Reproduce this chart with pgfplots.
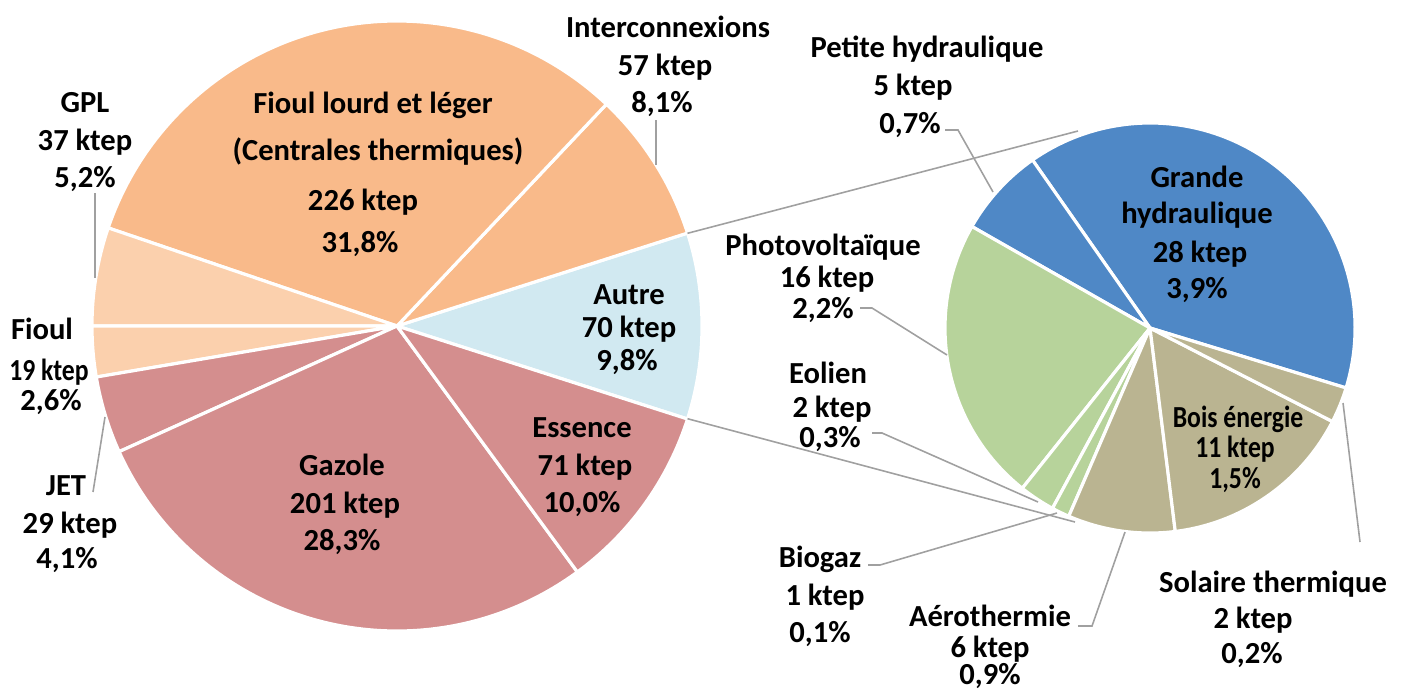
\documentclass[border=0pt]{standalone}
\usepackage{graphicx}
\usepackage{pgfplots}
\usepackage{pgfplotstable}
\pgfplotsset{compat=1.18}
\usepackage{fontspec}
\setmainfont{Carlito}

\definecolor{cOrange}{HTML}{F9BA8A}
\definecolor{cPeach}{HTML}{FBD0AD}
\definecolor{cRose}{HTML}{D48E8E}
\definecolor{cAutre}{HTML}{D1E9F1}
\definecolor{cBlue}{HTML}{4F88C6}
\definecolor{cGreen}{HTML}{B7D39B}
\definecolor{cKhaki}{HTML}{BAB491}
\definecolor{cLead}{HTML}{A0A0A0}

\tikzset{lbl/.style={font=\fontsize{8.7}{10}\selectfont\bfseries, inner sep=0pt,
    anchor=center, text height=0.66em, text depth=0.04em}}

% main pie, ktep, counter-clockwise starting with "Autre"
\pgfplotstableread{
name val col
Autre 70 cAutre
Interconnexions 57 cOrange
Fioul-lourd 226 cOrange
GPL 37 cPeach
Fioul 19 cPeach
JET 29 cRose
Gazole 201 cRose
Essence 71 cRose
}\leftpie
% detail of "Autre", ktep
\pgfplotstableread{
name val col
Grande-hydraulique 28 cBlue
Petite-hydraulique 5 cBlue
Photovoltaique 16 cGreen
Eolien 2 cGreen
Biogaz 1 cGreen
Aerothermie 6 cKhaki
Bois-energie 11 cKhaki
Solaire-thermique 2 cKhaki
}\rightpie
\pgfplotstablecreatecol[create col/expr accum={\pgfmathaccuma+\thisrow{val}}{0}]{cum}{\leftpie}
\pgfplotstablecreatecol[create col/expr accum={\pgfmathaccuma+\thisrow{val}}{0}]{cum}{\rightpie}

% #1 table, #2 cx, #3 cy, #4 radius (px), #5 start angle, #6 total
\newcommand\piechart[6]{%
  \pgfplotsextra{%
    \pgfplotstablegetrowsof{#1}\pgfmathtruncatemacro\lastrow{\pgfplotsretval-1}%
    \pgfmathsetmacro\rr{#4*0.01}%
    \foreach \i in {0,...,\lastrow}{%
      \pgfplotstablegetelem{\i}{val}\of{#1}\let\sval\pgfplotsretval
      \pgfplotstablegetelem{\i}{cum}\of{#1}\let\scum\pgfplotsretval
      \pgfplotstablegetelem{\i}{col}\of{#1}\let\scol\pgfplotsretval
      \pgfmathsetmacro\aend{#5+\scum/#6*360}%
      \pgfmathsetmacro\abeg{\aend-\sval/#6*360}%
      \fill[fill=\scol, draw=white, line width=0.9pt, line join=round]
        (axis cs:#2,#3) -- ++(\abeg:\rr cm)
        arc[start angle=\abeg, end angle=\aend, radius=\rr cm] -- cycle;
    }%
  }%
}
\newcommand\lab[3]{\node[lbl] at (axis cs:#1,#2) {#3};}
\newcommand\cond[1]{\scalebox{0.84}[1]{#1}}

\begin{document}
\begin{tikzpicture}
\begin{axis}[
  hide axis, scale only axis,
  x=0.01cm, y=0.01cm, y dir=reverse,
  xmin=0, xmax=1405, ymin=0, ymax=688,
  clip=false,
]
\piechart{\leftpie}{397}{326}{305}{-17.75}{710}
\piechart{\rightpie}{1150}{328}{205}{-17}{71}

% connectors between the two pies
\addplot[cLead, line width=0.45pt] coordinates {(687.5,233.3) (1078,131)};
\addplot[cLead, line width=0.45pt] coordinates {(687.5,418.7) (1075,522)};

% leader lines
\addplot[cLead, line width=0.45pt] coordinates {(95,193) (95,278)};
\addplot[cLead, line width=0.45pt] coordinates {(93,492) (105,417)};
\addplot[cLead, line width=0.45pt] coordinates {(656,120) (656,165)};
\addplot[cLead, line width=0.45pt] coordinates {(945,130) (958,130) (993,192)};
\addplot[cLead, line width=0.45pt] coordinates {(860,308) (872,308) (947,355)};
\addplot[cLead, line width=0.45pt] coordinates {(872,433) (882,433) (1038,502)};
\addplot[cLead, line width=0.45pt] coordinates {(868,565) (880,565) (1057,513)};
\addplot[cLead, line width=0.45pt] coordinates {(1078,626) (1092,626) (1125,532)};
\addplot[cLead, line width=0.45pt] coordinates {(1360,542) (1343,403)};

% labels, main pie
\lab{85}{102}{GPL}\lab{85}{140}{37 ktep}\lab{85}{177}{5,2\%}
\lab{42}{329}{Fioul}\lab{49}{370}{\cond{19 ktep}}\lab{51}{400}{2,6\%}
\lab{66}{485}{JET}\lab{70}{523}{29 ktep}\lab{67}{558}{4,1\%}
\lab{668}{27}{Interconnexions}\lab{665}{65}{57 ktep}\lab{662}{102}{8,1\%}
\lab{373}{103}{Fioul lourd et léger}\lab{378}{150}{(Centrales thermiques)}
\lab{363}{200}{226 ktep}\lab{360}{242}{31,8\%}
\lab{342}{465}{Gazole}\lab{345}{503}{201 ktep}\lab{342}{540}{28,3\%}
\lab{582}{427}{Essence}\lab{585}{465}{71 ktep}\lab{582}{502}{10,0\%}
\lab{629}{294}{Autre}\lab{629}{327}{70 ktep}\lab{627}{360}{9,8\%}

% labels, detail pie
\lab{1197}{177}{Grande}\lab{1197}{213}{hydraulique}
\lab{1200}{252}{28 ktep}\lab{1197}{288}{3,9\%}
\lab{927}{47}{Petite hydraulique}\lab{913}{85}{5 ktep}\lab{910}{123}{0,7\%}
\lab{823}{245}{Photovoltaïque}\lab{827}{277}{16 ktep}\lab{823}{308}{2,2\%}
\lab{828}{373}{Eolien}\lab{832}{407}{2 ktep}\lab{830}{437}{0,3\%}
\lab{820}{557}{Biogaz}\lab{825}{595}{1 ktep}\lab{820}{632}{0,1\%}
\lab{990}{616}{Aérothermie}\lab{990}{647}{6 ktep}\lab{990}{674}{0,9\%}
\lab{1238}{417}{\cond{Bois énergie}}\lab{1235}{447}{\cond{11 ktep}}\lab{1235}{478}{\cond{1,5\%}}
\lab{1273}{582}{Solaire thermique}\lab{1253}{618}{2 ktep}\lab{1252}{653}{0,2\%}
\end{axis}
\pgfresetboundingbox
\path[use as bounding box] (current axis.south west) rectangle (current axis.north east);
\end{tikzpicture}
\end{document}
